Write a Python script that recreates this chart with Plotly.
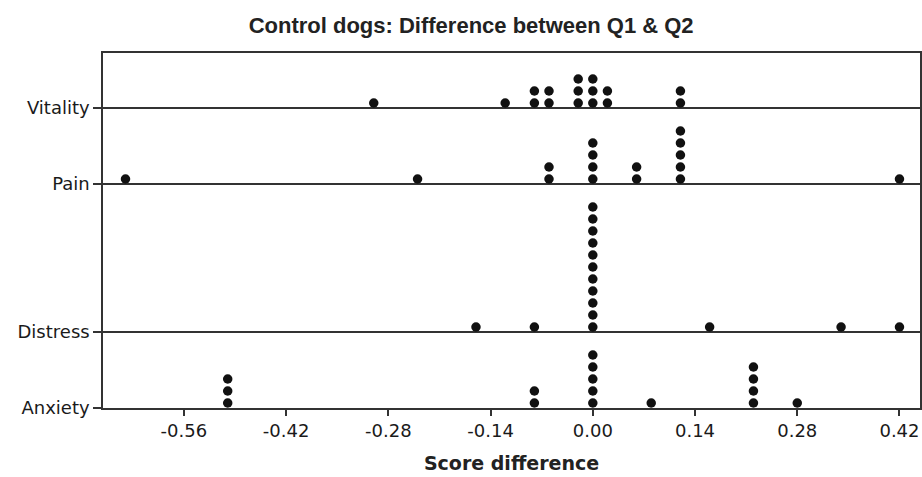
import plotly.graph_objects as go
from collections import Counter

# ---- data ----
categories = ["Vitality", "Pain", "Distress", "Anxiety"]
vitality = [-0.30, -0.12, -0.08, -0.08, -0.06, -0.06, -0.02, -0.02, -0.02,
            0.00, 0.00, 0.00, 0.02, 0.02, 0.12, 0.12]
pain = [-0.64, -0.24, -0.06, -0.06, 0.00, 0.00, 0.00, 0.00, 0.06, 0.06,
        0.12, 0.12, 0.12, 0.12, 0.12, 0.42]
distress = [-0.16, -0.08] + [0.00] * 11 + [0.16, 0.34, 0.42]
anxiety = [-0.50, -0.50, -0.50, -0.08, -0.08, 0.00, 0.00, 0.00, 0.00, 0.00,
           0.08, 0.22, 0.22, 0.22, 0.22, 0.28]
x_ticks = [-0.56, -0.42, -0.28, -0.14, 0.00, 0.14, 0.28, 0.42]
x_tick_labels = ["-0.56", "-0.42", "-0.28", "-0.14", "0.00", "0.14", "0.28", "0.42"]

# ---- layout of rows (pixel-like units on the y axis) ----
row_base = {"Vitality": 300, "Pain": 224, "Distress": 76, "Anxiety": 0}
dot_offset = 5
dot_step = 12

series = {"Vitality": vitality, "Pain": pain, "Distress": distress, "Anxiety": anxiety}

xs, ys = [], []
for name, vals in series.items():
    seen = Counter()
    for v in vals:
        k = seen[v]
        seen[v] += 1
        xs.append(v)
        ys.append(row_base[name] + dot_offset + dot_step * k)

fig = go.Figure()
fig.add_trace(go.Scatter(
    x=xs, y=ys, mode="markers",
    marker=dict(color="#111111", size=9.5, line=dict(width=0)),
    showlegend=False, hoverinfo="x",
))

tick_font = dict(family="DejaVu Sans, Verdana, sans-serif", size=18, color="#1a1a1a")

fig.update_layout(
    width=922, height=477,
    margin=dict(l=103, r=2, t=53, b=69, autoexpand=False),
    paper_bgcolor="white", plot_bgcolor="white",
    title=dict(
        text="Control dogs: Difference between Q1 &amp; Q2",
        x=0.511, xanchor="center", xref="container",
        y=1 - 25 / 477, yanchor="middle", yref="container",
        font=dict(family="Liberation Sans, Arial, sans-serif",
                  size=22, color="#222222", weight="bold"),
    ),
    xaxis=dict(
        range=[-0.6708, 0.4481],
        tickvals=x_ticks, ticktext=x_tick_labels,
        ticks="outside", ticklen=6, tickwidth=1.5, tickcolor="#333333",
        showgrid=False, zeroline=False, automargin=False,
        showline=True, linecolor="#333333", linewidth=1.5, mirror=True,
        tickfont=tick_font,
        title=dict(text="Score difference", standoff=16,
                   font=dict(family="DejaVu Sans, Verdana, sans-serif", size=19,
                             color="#222222", weight="bold")),
        fixedrange=True,
    ),
    yaxis=dict(
        range=[0, 355],
        tickvals=[row_base[c] for c in categories], ticktext=categories,
        ticks="outside", ticklen=8, tickwidth=1.5, tickcolor="#333333",
        showgrid=True, gridcolor="#333333", gridwidth=1.5,
        zeroline=False, automargin=False,
        showline=True, linecolor="#333333", linewidth=1.5, mirror=True,
        tickfont=tick_font,
        fixedrange=True,
    ),
)

fig.write_html("out.html", config={"displayModeBar": False},
               post_script="document.body.style.margin='0';")
